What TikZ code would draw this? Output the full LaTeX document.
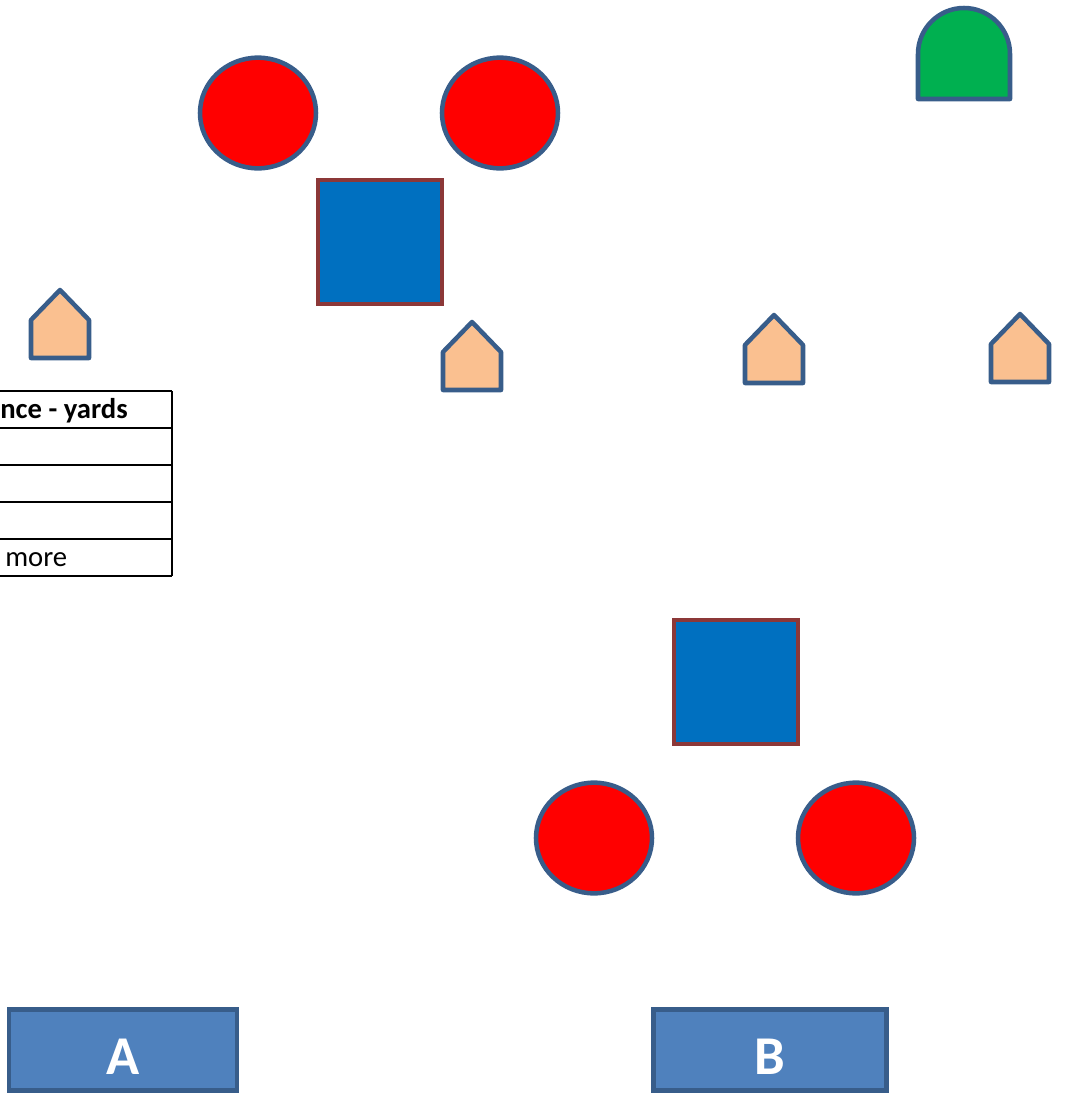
\documentclass[tikz,border=0pt]{standalone}
\usepackage{fontspec}
\setmainfont{Carlito}
\usetikzlibrary{shapes.geometric, positioning}
\definecolor{PlayerRed}{RGB}{255, 0, 0}
\definecolor{OutlineBlue}{RGB}{56, 93, 138}
\definecolor{CoachBlue}{RGB}{0, 112, 192}
\definecolor{CoachEdge}{RGB}{140, 56, 56}
\definecolor{GoalGreen}{RGB}{0, 176, 80}
\definecolor{ConeTan}{RGB}{250, 192, 144}
\definecolor{TeamBlue}{RGB}{79, 129, 189}

\begin{document}
\begin{tikzpicture}[
    x=0.75pt, y=-0.75pt,
    player/.style={ellipse, draw=OutlineBlue, fill=PlayerRed, line width=3.4pt, minimum width=87pt, minimum height=83pt, inner sep=0pt},
    coach/.style={rectangle, draw=CoachEdge, fill=CoachBlue, line width=3.4pt, minimum width=93pt, minimum height=93pt, inner sep=0pt},
    team/.style={rectangle, draw=OutlineBlue, fill=TeamBlue, line width=3.4pt, minimum height=61pt, inner sep=0pt, text height=37pt, text depth=0pt, text=white, font=\fontsize{41}{41}\selectfont\bfseries},
    cone/.style={draw=OutlineBlue, fill=ConeTan, line width=3.4pt, line join=round},
    tableline/.style={line width=1pt, black},
    celltext/.style={anchor=base west, inner sep=0pt, font=\fontsize{21.5}{26}\selectfont}
]
    \useasboundingbox (0,0) rectangle (1065,1093);

    % Grupo superior
    \node[player] (redTopL) at (258,113) {};
    \node[player] (redTopR) at (500,113) {};
    \node[coach] (coachTop) at (380,242) {};

    % Porteria / meta
    \draw[draw=OutlineBlue, fill=GoalGreen, line width=3.4pt, line join=round]
        (918,99) -- (918,54) arc[start angle=180, end angle=360, radius=46] -- (1010,99) -- cycle;

    % Conos
    \foreach \cx/\ty in {60/290, 472/322, 774/315, 1020/314}
        \draw[cone] (\cx-29,\ty+68) -- (\cx-29,\ty+30) -- (\cx,\ty) -- (\cx+29,\ty+30) -- (\cx+29,\ty+68) -- cycle;

    % Tabla (cortada)
    \foreach \ry in {391, 428, 465, 502, 539, 576}
        \draw[tableline] (0,\ry) -- (172,\ry);
    \draw[tableline] (172,391) -- (172,576);
    \node[celltext, font=\fontsize{21.5}{26}\selectfont\bfseries] (head) at (0,418) {nce - yards};
    \node[celltext] (lastRow) at (5,566) {more};

    % Grupo inferior
    \node[coach] (coachBot) at (736,682) {};
    \node[player] (redBotL) at (594,838) {};
    \node[player] (redBotR) at (856,838) {};

    % Equipos
    \node[team, minimum width=171pt] (teamA) at (123,1050) {A};
    \node[team, minimum width=175pt] (teamB) at (770,1050) {B};
\end{tikzpicture}
\end{document}
